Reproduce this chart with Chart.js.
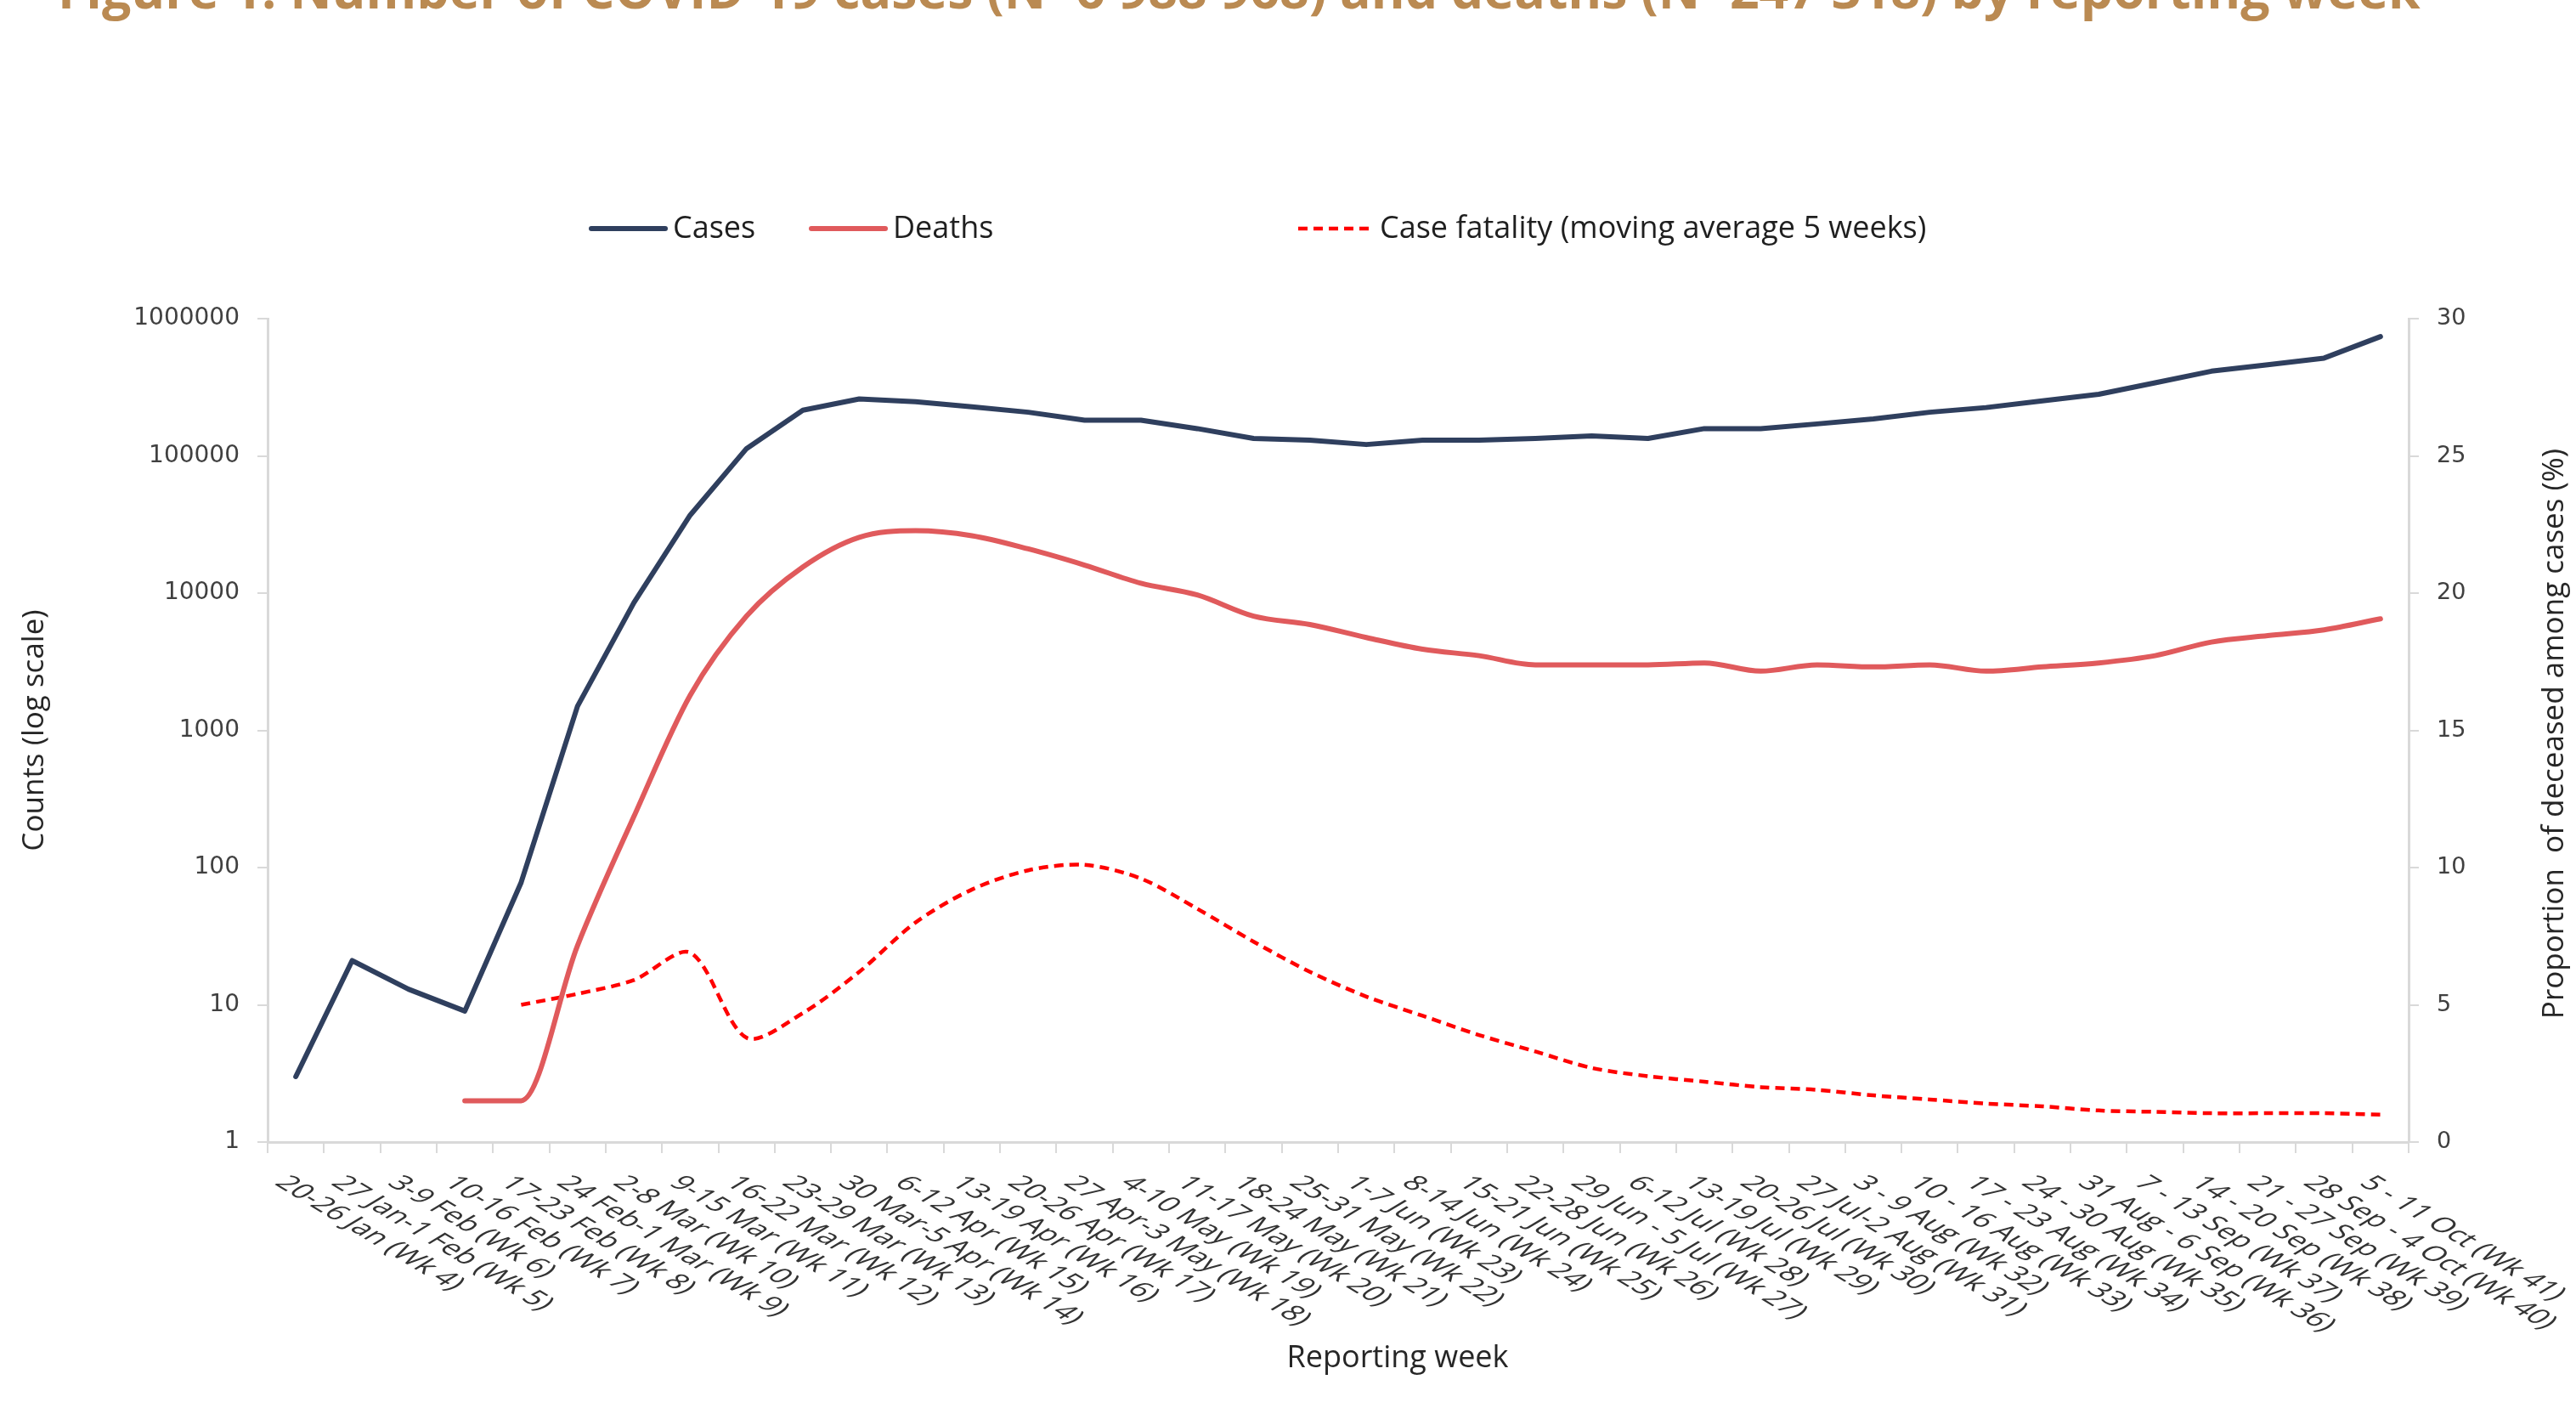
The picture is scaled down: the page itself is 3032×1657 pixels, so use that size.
<!DOCTYPE html>
<html>
<head>
<meta charset="utf-8">
<title>COVID-19 cases and deaths by reporting week</title>
<script src="https://cdn.jsdelivr.net/npm/chart.js@4.4.1/dist/chart.umd.min.js"></script>
<style>
  html, body { margin: 0; padding: 0; background: #fff; }
  #wrap { position: relative; width: 3032px; height: 1657px; }
</style>
</head>
<body>
<div id="wrap"><canvas id="chart" width="3032" height="1657"></canvas></div>
<script>
const titleText = 'Figure 1. Number of COVID-19 cases (N=6 988 968) and deaths (N=247 318) by reporting week';

const weeks = [
  '20-26 Jan (Wk 4)', '27 Jan-1 Feb (Wk 5)', '3-9 Feb (Wk 6)', '10-16 Feb (Wk 7)', '17-23 Feb (Wk 8)',
  '24 Feb-1 Mar (Wk 9)', '2-8 Mar (Wk 10)', '9-15 Mar (Wk 11)', '16-22 Mar (Wk 12)', '23-29 Mar (Wk 13)',
  '30 Mar-5 Apr (Wk 14)', '6-12 Apr (Wk 15)', '13-19 Apr (Wk 16)', '20-26 Apr (Wk 17)', '27 Apr-3 May (Wk 18)',
  '4-10 May (Wk 19)', '11-17 May (Wk 20)', '18-24 May (Wk 21)', '25-31 May (Wk 22)', '1-7 Jun (Wk 23)',
  '8-14 Jun (Wk 24)', '15-21 Jun (Wk 25)', '22-28 Jun (Wk 26)', '29 Jun - 5 Jul (Wk 27)', '6-12 Jul (Wk 28)',
  '13-19 Jul (Wk 29)', '20-26 Jul (Wk 30)', '27 Jul-2 Aug (Wk 31)', '3 - 9 Aug (Wk 32)', '10 - 16 Aug (Wk 33)',
  '17 - 23 Aug (Wk 34)', '24 - 30 Aug (Wk 35)', '31 Aug - 6 Sep (Wk 36)', '7 - 13 Sep (Wk 37)', '14 - 20 Sep (Wk 38)',
  '21 - 27 Sep (Wk 39)', '28 Sep - 4 Oct (Wk 40)', '5 - 11 Oct (Wk 41)'
];

const cases = [3, 21, 13, 9, 78, 1500, 8500, 37000, 113000, 215000,
  260000, 248000, 228000, 208000, 182000, 182000, 158000, 134000, 130000, 121000,
  130000, 130000, 134000, 140000, 134000, 158000, 158000, 171000, 186000, 208000,
  225000, 252000, 281000, 341000, 414000, 462000, 516000, 740000];

const deaths = [null, null, null, 2, 2, 27, 235, 1800, 6800, 15500,
  25500, 28500, 26200, 21000, 16000, 11800, 9700, 6800, 5900, 4750,
  3900, 3500, 3000, 3000, 3000, 3100, 2700, 3000, 2900, 3000,
  2700, 2900, 3100, 3500, 4400, 4900, 5400, 6500];

// moving average of the case fatality over 5 weeks, in percent
const caseFatality = [null, null, null, null, 5.0, 5.4, 5.9, 6.9, 3.8, 4.7,
  6.2, 8.0, 9.2, 9.9, 10.1, 9.6, 8.5, 7.3, 6.2, 5.3,
  4.6, 3.9, 3.3, 2.7, 2.4, 2.2, 2.0, 1.9, 1.7, 1.55,
  1.4, 1.3, 1.15, 1.1, 1.05, 1.05, 1.05, 1.0];

const countTicks = [1, 10, 100, 1000, 10000, 100000, 1000000];
const seriesNames = ['Cases', 'Deaths', 'Case fatality (moving average 5 weeks)'];
const yTitle = 'Counts (log scale)';
const y1Title = 'Proportion  of deceased among cases (%)';
const xTitle = 'Reporting week';

const axisGrey = '#D9D9D9';
const textDark = '#404040';

// legend sits at fixed spots like in the original layout
const legendX = [696, 955, 1528];

const extras = {
  id: 'extras',
  afterDraw(chart) {
    const ctx = chart.ctx;
    const area = chart.chartArea;
    const x = chart.scales.x;
    ctx.save();

    // title (top is cropped off in the source)
    ctx.fillStyle = '#BA8A52';
    ctx.font = "bold 56px 'Open Sans'";
    const w = ctx.measureText(titleText).width;
    const size = 56 * 2781 / w;
    ctx.font = `bold ${size}px 'Open Sans'`;
    ctx.textBaseline = 'alphabetic';
    ctx.textAlign = 'left';
    ctx.fillText(titleText, 68, 10);

    // legend
    ctx.font = "36px 'Open Sans'";
    ctx.textBaseline = 'middle';
    chart.data.datasets.forEach((ds, i) => {
      const lx = legendX[i], ly = 269;
      ctx.beginPath();
      ctx.strokeStyle = ds.borderColor;
      ctx.lineWidth = ds.borderDash ? 4.5 : 6;
      ctx.lineCap = ds.borderDash ? 'butt' : 'round';
      ctx.setLineDash(ds.borderDash || []);
      ctx.moveTo(lx, ly);
      ctx.lineTo(lx + 87, ly);
      ctx.stroke();
      ctx.setLineDash([]);
      ctx.fillStyle = '#1F1F1F';
      ctx.fillText(ds.label, lx + 96, ly + 1);
    });

    // week labels, slanted like the Excel export
    ctx.fillStyle = '#333333';
    ctx.font = "24px 'Open Sans'";
    ctx.textBaseline = 'top';
    ctx.textAlign = 'left';
    weeks.forEach((wk, i) => {
      const px = x.getPixelForValue(i);
      ctx.save();
      ctx.translate(px - 4, area.bottom + 36);
      ctx.scale(1.66, 1);
      ctx.rotate(Math.PI / 4);
      ctx.fillText(wk, 0, 0);
      ctx.restore();
    });

    // x title
    ctx.font = "36px 'Open Sans'";
    ctx.textAlign = 'center';
    ctx.textBaseline = 'middle';
    ctx.fillStyle = '#262626';
    ctx.fillText(xTitle, (area.left + area.right) / 2 + 70, 1599);

    // right axis title, reads bottom to top
    ctx.save();
    ctx.translate(3007, (area.top + area.bottom) / 2 + 4);
    ctx.rotate(-Math.PI / 2);
    ctx.font = "35px 'Open Sans'";
    ctx.fillText(y1Title, 0, 0);
    ctx.restore();

    ctx.restore();
  }
};

Chart.defaults.font.family = "'Open Sans', sans-serif";

new Chart(document.getElementById('chart').getContext('2d'), {
  type: 'line',
  data: {
    labels: weeks,
    datasets: [
      {
        label: seriesNames[0],
        data: cases,
        yAxisID: 'y',
        borderColor: '#2F3F5E',
        borderWidth: 6,
        tension: 0,
        pointRadius: 0,
        borderJoinStyle: 'round',
        borderCapStyle: 'round'
      },
      {
        label: seriesNames[1],
        data: deaths,
        yAxisID: 'y',
        borderColor: '#E05A5C',
        borderWidth: 6,
        cubicInterpolationMode: 'monotone',
        pointRadius: 0,
        borderJoinStyle: 'round',
        borderCapStyle: 'round'
      },
      {
        label: seriesNames[2],
        data: caseFatality,
        yAxisID: 'y1',
        borderColor: '#FF0000',
        borderWidth: 4.5,
        borderDash: [11, 7],
        tension: 0.3,
        pointRadius: 0
      }
    ]
  },
  options: {
    responsive: false,
    animation: false,
    layout: { padding: { top: 375, left: 0, right: 0, bottom: 0 } },
    plugins: {
      legend: { display: false },
      tooltip: { enabled: false }
    },
    scales: {
      x: {
        type: 'category',
        offset: true,
        grid: { offset: true, drawOnChartArea: false, drawTicks: true, tickLength: 13, color: axisGrey, lineWidth: 2 },
        border: { color: axisGrey, width: 3 },
        ticks: { display: false, autoSkip: false },
        afterFit: s => { s.height = 313; }
      },
      y: {
        type: 'logarithmic',
        position: 'left',
        min: 1,
        max: 1000000,
        afterBuildTicks: s => { s.ticks = countTicks.map(v => ({ value: v, major: true })); },
        grid: { drawOnChartArea: false, drawTicks: true, tickLength: 12, color: axisGrey, lineWidth: 2 },
        border: { color: axisGrey, width: 3 },
        ticks: {
          font: { family: "'DejaVu Sans'", size: 28 },
          color: textDark,
          padding: 21,
          callback: v => String(v)
        },
        title: {
          display: true,
          text: yTitle,
          font: { size: 35 },
          color: '#262626',
          padding: { top: 20, bottom: 0 }
        },
        afterFit: s => { s.width = 315; }
      },
      y1: {
        type: 'linear',
        position: 'right',
        min: 0,
        max: 30,
        grid: { drawOnChartArea: false, drawTicks: true, tickLength: 12, color: axisGrey, lineWidth: 2 },
        border: { color: axisGrey, width: 3 },
        ticks: {
          stepSize: 5,
          font: { family: "'DejaVu Sans'", size: 27 },
          color: textDark,
          padding: 21
        },
        afterFit: s => { s.width = 197; }
      }
    }
  },
  plugins: [extras]
});
</script>
</body>
</html>
